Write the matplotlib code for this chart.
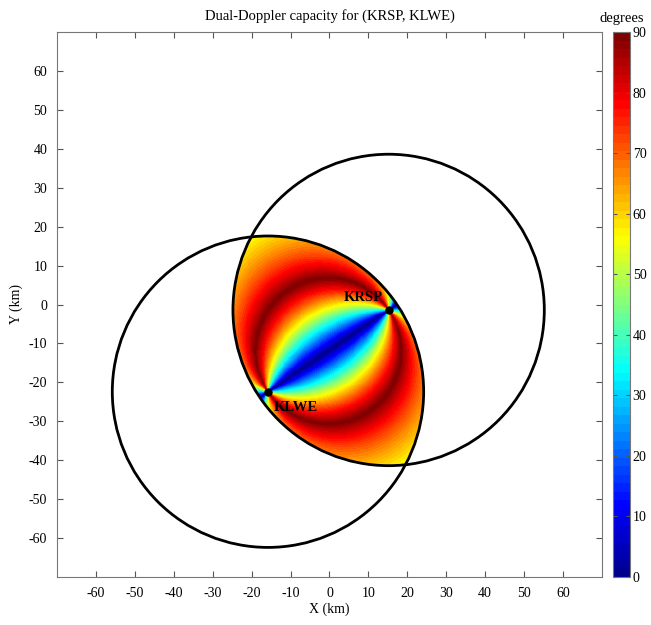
import numpy as np
import matplotlib.pyplot as plt
from matplotlib.patches import Circle
from matplotlib.colors import LinearSegmentedColormap

plt.rcParams['font.family'] = ['Liberation Serif', 'DejaVu Serif']
plt.rcParams['font.size'] = 10
plt.rcParams['axes.unicode_minus'] = False

# radar sites (km) and dual-Doppler range
radar_names = ['KRSP', 'KLWE']
radar_x = [15.2, -15.8]
radar_y = [-1.4, -22.4]
max_range = 40.0
x_ticks = list(range(-60, 61, 10))
y_ticks = list(range(-60, 61, 10))
cbar_ticks = list(range(0, 91, 10))

# beam crossing angle on a grid
gx = np.linspace(-70, 70, 1121)
gy = np.linspace(-70, 70, 1121)
X, Y = np.meshgrid(gx, gy)
a1 = np.arctan2(Y - radar_y[0], X - radar_x[0])
a2 = np.arctan2(Y - radar_y[1], X - radar_x[1])
ang = np.degrees(np.abs(a1 - a2)) % 180
ang = np.where(ang > 90, 180 - ang, ang)
d1 = np.hypot(X - radar_x[0], Y - radar_y[0])
d2 = np.hypot(X - radar_x[1], Y - radar_y[1])
ang = np.ma.masked_where((d1 > max_range) | (d2 > max_range), ang)

# matlab style jet(64)
jet_pts = {
    'red': [(0, 0, 0), (0.375, 0, 0), (0.625, 1, 1), (0.875, 1, 1), (1, 0.5, 0.5)],
    'green': [(0, 0, 0), (0.125, 0, 0), (0.375, 1, 1), (0.625, 1, 1), (0.875, 0, 0), (1, 0, 0)],
    'blue': [(0, 0.5625, 0.5625), (0.125, 1, 1), (0.375, 1, 1), (0.625, 0, 0), (1, 0, 0)],
}
cmap = LinearSegmentedColormap('mjet', jet_pts, N=64)

fig = plt.figure(figsize=(6.51, 6.25), dpi=100)
ax = fig.add_axes([0.0876, 0.0768, 0.837, 0.872])
cax = fig.add_axes([0.9416, 0.0768, 0.026, 0.872])

mesh = ax.pcolormesh(gx, gy, ang, cmap=cmap, vmin=0, vmax=90, shading='auto')

for i in range(2):
    ax.add_patch(Circle((radar_x[i], radar_y[i]), max_range, fill=False,
                        ec='black', lw=2, zorder=3))
    ax.plot(radar_x[i], radar_y[i], 'o', color='black', ms=5, zorder=4)

ax.text(radar_x[0] - 1.5, radar_y[0] + 1.5, radar_names[0], fontweight='bold',
        ha='right', va='bottom', fontsize=10.5, zorder=5)
ax.text(radar_x[1] + 1.5, radar_y[1] - 2.5, radar_names[1], fontweight='bold',
        ha='left', va='top', fontsize=10.5, zorder=5)

ax.set_xlim(-70, 70)
ax.set_ylim(-70, 70)
ax.set_xticks(x_ticks)
ax.set_yticks(y_ticks)
ax.tick_params(direction='in', top=True, right=True, length=4, color='#555555',
               pad=7)
for s in ax.spines.values():
    s.set_color('#777777')
ax.set_xlabel('X (km)', labelpad=2)
ax.set_ylabel('Y (km)', labelpad=4)
ax.set_title('Dual-Doppler capacity for (KRSP, KLWE)', fontsize=10.5, pad=9)

cb = fig.colorbar(mesh, cax=cax, ticks=cbar_ticks)
cb.ax.tick_params(direction='in', length=3, left=True, color='#555555', pad=2)
cb.outline.set_edgecolor('#777777')
cax.set_title('degrees', fontsize=10.5, pad=7)

fig.savefig('out.png', dpi=100)
